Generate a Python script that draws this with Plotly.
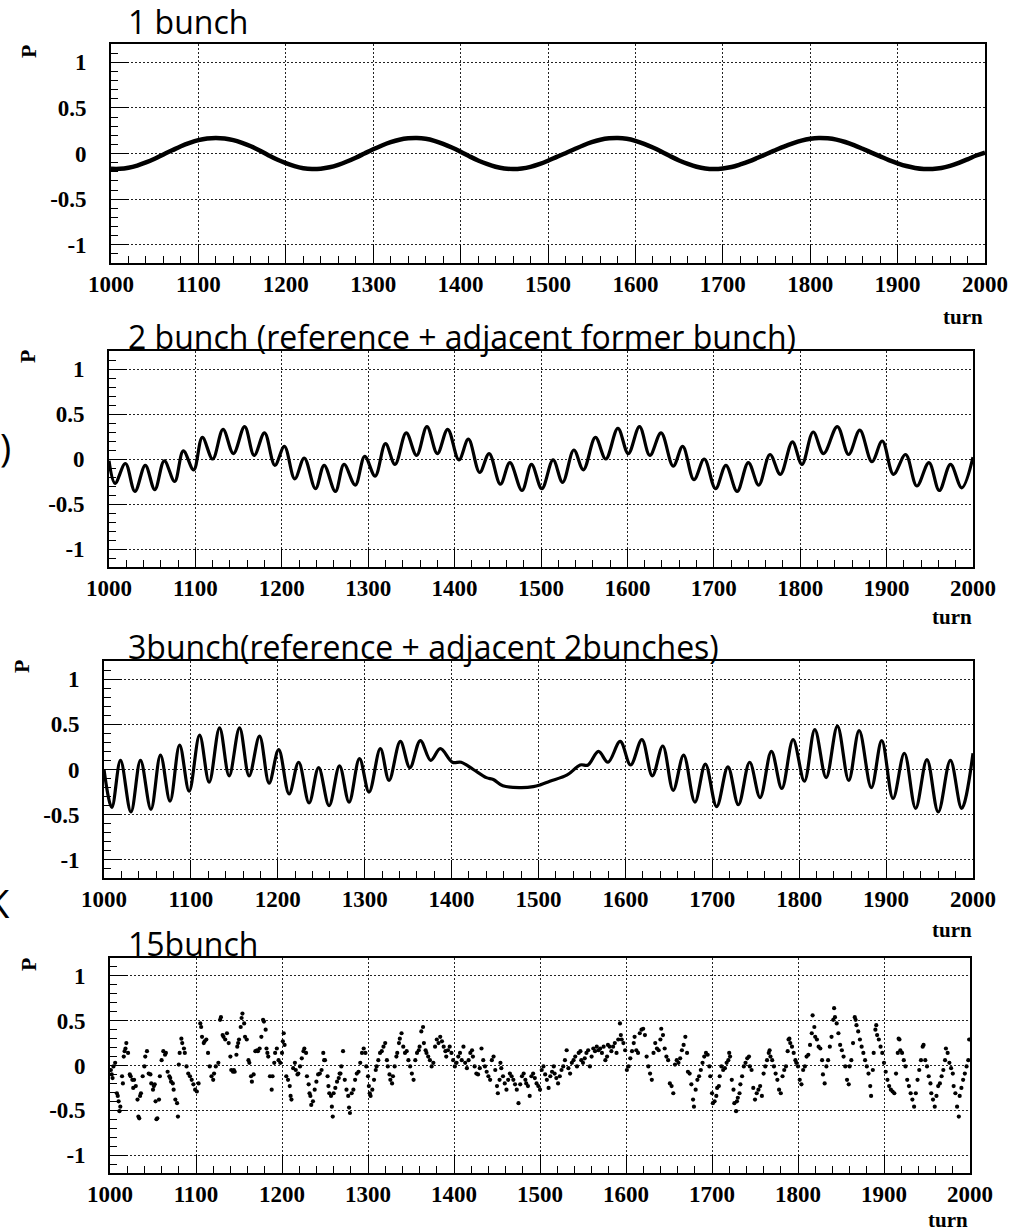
import plotly.graph_objects as go

# ---------------- data ----------------
turn_1bunch = [1000, 1010, 1020, 1030, 1040, 1050, 1060, 1070, 1080, 1090,
               1100, 1110, 1120, 1130, 1140, 1150, 1160, 1170, 1180, 1190,
               1200, 1210, 1220, 1230, 1240, 1250, 1260, 1270, 1280, 1290,
               1300, 1310, 1320, 1330, 1340, 1350, 1360, 1370, 1380, 1390,
               1400, 1410, 1420, 1430, 1440, 1450, 1460, 1470, 1480, 1490,
               1500, 1510, 1520, 1530, 1540, 1550, 1560, 1570, 1580, 1590,
               1600, 1610, 1620, 1630, 1640, 1650, 1660, 1670, 1680, 1690,
               1700, 1710, 1720, 1730, 1740, 1750, 1760, 1770, 1780, 1790,
               1800, 1810, 1820, 1830, 1840, 1850, 1860, 1870, 1880, 1890,
               1900, 1910, 1920, 1930, 1940, 1950, 1960, 1970, 1980, 1990, 2000]
p_1bunch = [-0.168, -0.168, -0.156, -0.132, -0.098, -0.057, -0.010, 0.035, 0.079, 0.116,
            0.146, 0.164, 0.170, 0.164, 0.146, 0.116, 0.079, 0.033, -0.018, -0.066,
            -0.106, -0.139, -0.161, -0.170, -0.166, -0.151, -0.124, -0.088, -0.046, 0.000,
            0.046, 0.088, 0.124, 0.151, 0.166, 0.170, 0.161, 0.139, 0.106, 0.066,
            0.020, -0.030, -0.076, -0.114, -0.145, -0.164, -0.170, -0.164, -0.146, -0.116,
            -0.079, -0.037, 0.003, 0.046, 0.088, 0.124, 0.151, 0.166, 0.170, 0.161,
            0.139, 0.106, 0.066, 0.020, -0.030, -0.076, -0.114, -0.145, -0.164, -0.170,
            -0.164, -0.148, -0.120, -0.087, -0.047, -0.005, 0.036, 0.076, 0.111, 0.141,
            0.161, 0.170, 0.166, 0.152, 0.126, 0.092, 0.052, 0.010, -0.031, -0.072,
            -0.107, -0.137, -0.158, -0.169, -0.169, -0.159, -0.136, -0.103, -0.064, -0.022, 0.010]

turn_2bunch = [1000, 1007, 1019, 1030, 1042, 1053, 1064, 1076, 1086, 1098,
               1108, 1120, 1132, 1144, 1157, 1168, 1180, 1192, 1203, 1215,
               1226, 1239, 1249, 1262, 1272, 1285, 1296, 1308, 1320, 1331,
               1344, 1356, 1368, 1380, 1392, 1405, 1416, 1429, 1440, 1453,
               1464, 1478, 1489, 1501, 1514, 1525, 1538, 1549, 1563, 1575,
               1589, 1601, 1614, 1626, 1639, 1653, 1664, 1677, 1689, 1702,
               1714, 1727, 1740, 1752, 1765, 1777, 1791, 1802, 1815, 1827,
               1843, 1856, 1869, 1883, 1895, 1908, 1922, 1935, 1949, 1961,
               1974, 1987, 2000]
p_2bunch = [-0.02, -0.27, -0.05, -0.36, -0.07, -0.34, -0.02, -0.25, 0.09, -0.12,
            0.24, 0.00, 0.33, 0.06, 0.36, 0.04, 0.29, -0.07, 0.14, -0.22,
            0.01, -0.33, -0.07, -0.36, -0.06, -0.29, 0.03, -0.19, 0.17, -0.06,
            0.29, 0.04, 0.36, 0.06, 0.33, -0.01, 0.22, -0.15, 0.06, -0.28,
            -0.04, -0.35, -0.06, -0.33, -0.01, -0.26, 0.10, -0.12, 0.24, 0.00,
            0.34, 0.06, 0.36, 0.04, 0.29, -0.08, 0.14, -0.23, 0.00, -0.33,
            -0.07, -0.36, -0.04, -0.29, 0.05, -0.17, 0.19, -0.06, 0.30, 0.06,
            0.36, 0.05, 0.32, -0.03, 0.20, -0.17, 0.05, -0.30, -0.04, -0.35,
            -0.06, -0.32, 0.02]

turn_3bunch = [1000, 1009, 1019, 1031, 1042, 1054, 1065, 1076, 1087, 1098,
               1110, 1121, 1133, 1144, 1156, 1167, 1179, 1190, 1201, 1213,
               1224, 1236, 1247, 1259, 1271, 1282, 1294, 1305, 1318, 1328,
               1341, 1352, 1364, 1376, 1387, 1401, 1411, 1425, 1440, 1448,
               1459, 1479, 1494, 1502, 1513, 1533, 1548, 1557, 1569, 1580,
               1594, 1606, 1619, 1631, 1643, 1655, 1667, 1680, 1692, 1705,
               1718, 1730, 1743, 1755, 1768, 1780, 1793, 1806, 1818, 1831,
               1844, 1857, 1869, 1883, 1895, 1908, 1921, 1934, 1947, 1960,
               1974, 1987, 2000]
p_3bunch = [0.00, -0.42, 0.10, -0.47, 0.10, -0.44, 0.16, -0.35, 0.27, -0.24,
            0.38, -0.14, 0.46, -0.07, 0.46, -0.07, 0.37, -0.15, 0.22, -0.27,
            0.08, -0.37, 0.02, -0.40, 0.04, -0.36, 0.12, -0.25, 0.23, -0.12,
            0.31, 0.02, 0.32, 0.10, 0.23, 0.08, 0.08, 0.00, -0.09, -0.11,
            -0.18, -0.20, -0.19, -0.17, -0.13, -0.06, 0.05, 0.05, 0.20, 0.08,
            0.31, 0.05, 0.33, -0.07, 0.26, -0.23, 0.16, -0.36, 0.06, -0.41,
            0.03, -0.39, 0.08, -0.31, 0.20, -0.21, 0.33, -0.13, 0.44, -0.09,
            0.48, -0.12, 0.43, -0.20, 0.32, -0.32, 0.18, -0.43, 0.11, -0.47,
            0.10, -0.43, 0.18]

turn_15bunch = [
    1001, 1002, 1003, 1004, 1006, 1008, 1009, 1010, 1011, 1012, 1014, 1015, 1016, 1017, 1018, 1019, 1021,
    1023, 1024, 1026, 1027, 1028, 1030, 1032, 1033, 1034, 1035, 1036, 1038, 1040, 1041, 1043,
    1045, 1047, 1048, 1050, 1051, 1052, 1053, 1054, 1055, 1057, 1058, 1060, 1062, 1064, 1065,
    1067, 1069, 1070, 1071, 1073, 1074, 1076, 1078, 1079, 1080, 1081, 1083, 1084, 1086, 1087,
    1089, 1091, 1093, 1095, 1097, 1099, 1101, 1103, 1105, 1106, 1107, 1109, 1110, 1112, 1114,
    1116, 1118, 1120, 1121, 1123, 1126, 1128, 1129, 1131, 1132, 1134, 1136, 1138, 1140, 1141,
    1143, 1144, 1145, 1147, 1148, 1149, 1150, 1152, 1153, 1154, 1156, 1157, 1159, 1161, 1162,
    1164, 1165, 1167, 1169, 1171, 1172, 1174, 1176, 1178, 1179, 1181, 1182, 1183, 1184, 1186,
    1188, 1189, 1191, 1192, 1194, 1196, 1198, 1200, 1201, 1202, 1203, 1205, 1207, 1209, 1210,
    1211, 1213, 1215, 1216, 1218, 1219, 1221, 1223, 1225, 1226, 1228, 1229, 1231, 1232, 1233,
    1234, 1236, 1238, 1240, 1242, 1244, 1246, 1248, 1249, 1250, 1253, 1254, 1255, 1257, 1258,
    1259, 1260, 1262, 1264, 1266, 1267, 1268, 1269, 1271, 1273, 1275, 1277, 1278, 1279, 1281,
    1283, 1285, 1287, 1289, 1291, 1293, 1295, 1297, 1298, 1300, 1301, 1302, 1303, 1305, 1307,
    1309, 1310, 1312, 1314, 1316, 1318, 1320, 1322, 1323, 1325, 1326, 1328, 1329, 1331, 1333,
    1334, 1336, 1337, 1339, 1341, 1343, 1345, 1347, 1349, 1351, 1353, 1355, 1357, 1359, 1360,
    1362, 1364, 1365, 1367, 1368, 1370, 1372, 1374, 1376, 1378, 1380, 1382, 1384, 1386, 1388,
    1390, 1391, 1393, 1395, 1397, 1399, 1401, 1403, 1405, 1407, 1409, 1411, 1413, 1415, 1417,
    1419, 1421, 1422, 1424, 1426, 1428, 1430, 1432, 1434, 1436, 1438, 1440, 1442, 1444, 1446,
    1448, 1450, 1451, 1453,
    1454, 1455, 1457, 1459, 1461, 1463, 1465, 1467, 1469, 1471, 1473, 1475, 1477, 1479, 1481,
    1483, 1484, 1486, 1488, 1490, 1492, 1494, 1496, 1498, 1500, 1502, 1504, 1506, 1508, 1510,
    1512, 1514, 1516, 1517, 1519, 1521, 1523, 1525, 1527, 1529, 1531, 1533, 1535, 1537, 1539,
    1541, 1543, 1545, 1547, 1548, 1550, 1552, 1554, 1556, 1558, 1560, 1562, 1564, 1566, 1568,
    1570, 1572, 1574, 1576, 1578, 1579, 1581, 1583, 1585, 1587, 1589, 1591, 1593, 1594, 1595,
    1597, 1599, 1601, 1603, 1605, 1607, 1609, 1610, 1612, 1614, 1616, 1618, 1620, 1622, 1624,
    1626, 1628, 1630, 1632, 1634, 1636, 1638, 1640, 1641, 1643, 1645, 1647, 1649, 1651, 1653,
    1655, 1657, 1659, 1661, 1663, 1665, 1667, 1669, 1671, 1672, 1674, 1676, 1678, 1679, 1681,
    1683, 1685, 1687, 1689, 1691, 1693, 1695, 1697, 1698, 1700, 1701, 1703, 1705, 1706, 1708,
    1709, 1711, 1713, 1715, 1717, 1719, 1720, 1721, 1723, 1725, 1726, 1728, 1729, 1730, 1732,
    1733, 1735, 1737, 1739, 1741, 1743, 1744, 1746, 1748, 1750, 1752, 1754, 1756, 1758, 1760,
    1762, 1764, 1766, 1767, 1768, 1770, 1772, 1774, 1776, 1778, 1780, 1782, 1784, 1786, 1788,
    1789, 1790, 1791, 1793, 1795, 1797, 1798, 1800, 1802, 1804, 1806, 1808, 1810, 1812, 1814,
    1816, 1817, 1819, 1820, 1822, 1824, 1826, 1828, 1829, 1831, 1833, 1835, 1837, 1839, 1841,
    1842, 1843, 1845, 1847, 1849, 1851, 1853, 1855, 1857, 1859, 1860, 1862, 1864, 1866, 1867,
    1868, 1870, 1872, 1874, 1876, 1878, 1880, 1882, 1884, 1885, 1887, 1888, 1890, 1891, 1892,
    1894, 1896, 1898, 1900, 1902, 1904, 1906, 1908, 1910, 1912, 1914, 1916, 1917, 1918, 1919,
    1921, 1923, 1925, 1927, 1929, 1931, 1933, 1935, 1937, 1939, 1941, 1943, 1945, 1946, 1948,
    1950, 1952, 1954, 1955, 1957, 1959, 1961, 1963, 1965, 1967, 1969, 1971, 1972, 1974, 1976,
    1978, 1980, 1981, 1983, 1985, 1987, 1988, 1990, 1992, 1994, 1996, 1998, 1999]
p_15bunch = [
    -0.05, -0.10, -0.14, -0.01, 0.03, -0.31, -0.34, -0.40, -0.51, -0.46, -0.12, -0.20, 0.10, 0.16, 0.19, 0.25, 0.14,
    -0.10, -0.12, -0.16, -0.25, -0.16, -0.23, -0.38, -0.57, -0.59, -0.34, -0.31, -0.12, -0.01, 0.10, 0.16,
    -0.09, -0.10, -0.20, -0.27, -0.23, -0.21, -0.40, -0.60, -0.59, -0.38, -0.12, 0.06, 0.16, 0.12, 0.14,
    -0.07, -0.12, -0.14, -0.18, -0.20, -0.27, -0.38, -0.42, -0.57, 0.01, 0.14, 0.30, 0.25, 0.19, 0.14,
    -0.01, -0.09, -0.12, -0.16, -0.21, -0.27, -0.29, -0.20, 0.47, 0.43, 0.32, 0.25, 0.27, 0.29, 0.14,
    -0.01, -0.12, -0.16, -0.09, -0.01, 0.03, 0.51, 0.54, 0.34, 0.32, 0.29, 0.36, 0.25, 0.10, -0.05,
    -0.07, -0.05, -0.07, 0.12, 0.21, 0.25, 0.29, 0.43, 0.53, 0.58, 0.47, 0.32, 0.29, 0.06, 0.03,
    -0.12, -0.18, -0.10, 0.16, 0.17, 0.16, 0.19, 0.32, 0.51, 0.49, 0.40, 0.19, 0.14, 0.10, -0.12,
    -0.27, -0.12, 0.03, 0.14, 0.19, 0.06, 0.03, 0.14, 0.27, 0.36, 0.23, -0.12, -0.16, -0.23, -0.34,
    -0.38, -0.03, 0.03, -0.05, -0.10, -0.09, -0.01, 0.08, 0.16, 0.19, 0.14, -0.12, -0.21, -0.31, -0.34,
    -0.44, -0.40, -0.27, -0.18, -0.10, -0.09, -0.05, 0.14, 0.06, 0.06, -0.12, -0.23, -0.31, -0.34, -0.46,
    -0.57, -0.31, -0.25, -0.18, -0.14, -0.09, -0.09, -0.01, 0.16, -0.16, -0.27, -0.34, -0.47, -0.53, -0.31,
    -0.27, -0.16, -0.09, -0.07, 0.03, 0.14, 0.19, 0.14, -0.01, -0.12, -0.23, -0.31, -0.34, -0.27, -0.16,
    -0.05, -0.01, 0.06, 0.14, 0.16, 0.21, 0.25, 0.06, -0.01, -0.10, -0.16, -0.20, -0.12, -0.01, 0.10,
    0.14, 0.25, 0.30, 0.36, 0.21, 0.14, 0.16, 0.06, -0.01, -0.09, -0.16, 0.06, 0.14, 0.17, 0.21,
    0.38, 0.43, 0.25, 0.17, 0.14, 0.10, 0.06, -0.01, 0.03, 0.21, 0.29, 0.25, 0.32, 0.27, 0.21,
    0.16, 0.10, 0.17, 0.21, 0.14, 0.06, -0.01, 0.03, 0.10, 0.14, 0.06, 0.21, 0.03, -0.03, 0.06,
    0.14, 0.17, 0.10, -0.01, -0.09, -0.10, -0.03, 0.19, 0.06, -0.01, -0.07, -0.12, -0.16, 0.06, 0.10,
    -0.05, -0.23, -0.31, -0.16,
    0.03, -0.03, -0.12, -0.20, -0.27, -0.16, -0.09, -0.12, -0.16, -0.21, -0.27, -0.42, -0.21, -0.12, -0.09,
    -0.16, -0.20, -0.23, -0.34, -0.12, -0.09, -0.14, -0.20, -0.23, -0.27, -0.05, -0.01, -0.10, -0.16, -0.25,
    -0.12, -0.07, -0.01, -0.09, -0.14, -0.20, -0.12, -0.05, -0.01, 0.06, 0.17, -0.03, -0.09, 0.03, 0.06,
    0.10, -0.01, 0.14, 0.16, 0.06, 0.03, 0.08, 0.14, 0.17, -0.01, 0.10, 0.19, 0.16, 0.21, 0.17,
    0.19, 0.14, 0.21, 0.06, 0.10, 0.23, 0.21, 0.16, 0.21, 0.25, 0.14, 0.29, 0.47, 0.34, 0.29,
    0.25, 0.17, -0.05, -0.01, 0.08, 0.16, 0.25, 0.32, 0.17, 0.14, 0.36, 0.40, 0.41, 0.34, 0.10,
    -0.01, -0.09, -0.16, 0.14, 0.25, 0.19, 0.17, 0.29, 0.41, 0.34, 0.19, 0.10, 0.06, -0.20, -0.23,
    -0.31, 0.01, 0.06, 0.03, 0.08, 0.17, 0.23, 0.32, 0.14, -0.07, -0.09, -0.21, -0.38, -0.46, -0.27,
    -0.16, -0.12, -0.05, 0.03, 0.10, 0.14, 0.12, -0.01, -0.12, -0.31, -0.42, -0.40, -0.34, -0.25, -0.23,
    -0.12, -0.01, -0.05, -0.03, 0.03, 0.06, 0.14, 0.10, -0.16, -0.27, -0.42, -0.51, -0.40, -0.36, -0.31,
    -0.21, -0.12, -0.01, 0.03, 0.08, 0.10, -0.01, -0.05, -0.25, -0.38, -0.31, -0.27, -0.23, -0.34, -0.09,
    -0.01, 0.06, 0.14, 0.17, 0.10, 0.06, -0.01, -0.09, -0.16, -0.27, -0.31, -0.12, -0.05, -0.01, 0.16,
    0.29, 0.30, 0.25, 0.21, 0.14, 0.06, 0.03, -0.01, -0.16, -0.21, -0.05, -0.01, 0.10, 0.12, 0.23,
    0.36, 0.56, 0.43, 0.32, 0.29, 0.21, 0.19, 0.06, -0.10, -0.20, -0.01, 0.06, 0.21, 0.32, 0.51,
    0.64, 0.54, 0.47, 0.36, 0.23, 0.17, 0.10, -0.01, -0.16, -0.21, -0.01, 0.06, 0.25, 0.54, 0.51,
    0.45, 0.38, 0.29, 0.21, 0.14, 0.06, -0.01, -0.09, -0.23, -0.34, -0.05, 0.14, 0.40, 0.45, 0.34,
    0.29, 0.21, 0.14, 0.03, -0.07, -0.16, -0.23, -0.27, -0.29, -0.31, -0.09, 0.14, 0.30, 0.29, 0.17,
    0.14, 0.06, -0.01, -0.16, -0.23, -0.31, -0.38, -0.46, -0.31, -0.16, -0.05, 0.06, 0.21, 0.23, 0.06,
    -0.01, -0.12, -0.20, -0.31, -0.38, -0.46, -0.34, -0.23, -0.20, -0.12, -0.05, 0.06, 0.19, 0.14, 0.03,
    -0.03, -0.09, -0.23, -0.31, -0.46, -0.57, -0.34, -0.25, -0.16, -0.09, -0.01, 0.06, 0.29]

x_tickvals = [1000, 1100, 1200, 1300, 1400, 1500, 1600, 1700, 1800, 1900, 2000]
x_ticktext = ["1000", "1100", "1200", "1300", "1400", "1500", "1600", "1700", "1800", "1900", "2000"]
y_tickvals = [-1, -0.5, 0, 0.5, 1]
y_ticktext = ["-1", "-0.5", "0", "0.5", "1"]

titles = ["1 bunch",
          "2 bunch (reference + adjacent former bunch)",
          "3bunch(reference + adjacent 2bunches)",
          "15bunch"]

# ---------------- layout ----------------
W, H = 1025, 1232
boxes = [(111, 985, 44, 263), (109, 973, 351, 567), (104, 973, 661, 878), (110, 970, 958, 1173)]
title_baseline = [34, 349, 659, 956]
turn_label_pos = [(963, 317), (952, 617), (952, 930), (948, 1220)]
p_label_pos = [(28, 52), (27, 357), (21, 667), (28, 965)]

fig = go.Figure()

fig.add_trace(go.Scatter(x=turn_1bunch, y=p_1bunch, mode="lines",
                         line=dict(color="black", width=4.5, shape="spline", smoothing=1.0),
                         xaxis="x", yaxis="y", showlegend=False))
fig.add_trace(go.Scatter(x=turn_2bunch, y=p_2bunch, mode="lines",
                         line=dict(color="black", width=3.2, shape="spline", smoothing=1.0),
                         xaxis="x2", yaxis="y2", showlegend=False))
fig.add_trace(go.Scatter(x=turn_3bunch, y=p_3bunch, mode="lines",
                         line=dict(color="black", width=3.2, shape="spline", smoothing=1.0),
                         xaxis="x3", yaxis="y3", showlegend=False))
fig.add_trace(go.Scatter(x=turn_15bunch, y=p_15bunch, mode="markers",
                         marker=dict(color="black", size=4.2),
                         xaxis="x4", yaxis="y4", showlegend=False))

tickfont = dict(family="Liberation Serif", size=23, color="black", weight="bold")
grid_dash = "2px,2px"

layout = dict(width=W, height=H,
              margin=dict(l=0, r=0, t=0, b=0, autoexpand=False),
              paper_bgcolor="white", plot_bgcolor="white", showlegend=False)

annotations = []
for i, (x0, x1, y0, y1) in enumerate(boxes):
    n = "" if i == 0 else str(i + 1)
    layout["xaxis" + n] = dict(
        domain=[x0 / W, x1 / W], anchor="y" + n, range=[1000, 2000],
        tickmode="array", tickvals=x_tickvals, ticktext=x_ticktext,
        ticks="inside", ticklen=18, tickwidth=1.2, tickcolor="black",
        minor=dict(tickmode="linear", tick0=1000, dtick=20, ticks="inside",
                   ticklen=7, tickwidth=1, tickcolor="black", showgrid=False),
        showgrid=True, gridcolor="#222", gridwidth=1, griddash=grid_dash,
        showline=True, linecolor="black", linewidth=1.6, mirror=True,
        zeroline=False, tickfont=tickfont, ticklabelstandoff=0, automargin=False)
    layout["yaxis" + n] = dict(
        domain=[1 - y1 / H, 1 - y0 / H], anchor="x" + n, range=[-1.2, 1.2],
        tickmode="array", tickvals=y_tickvals, ticktext=y_ticktext,
        ticks="inside", ticklen=18, tickwidth=1.2, tickcolor="black",
        minor=dict(tickmode="linear", tick0=0, dtick=0.1, ticks="inside",
                   ticklen=7, tickwidth=1, tickcolor="black", showgrid=False),
        showgrid=True, gridcolor="#222", gridwidth=1, griddash=grid_dash,
        showline=True, linecolor="black", linewidth=1.6, mirror=True,
        zeroline=False, tickfont=tickfont, ticklabelstandoff=18, automargin=False)

    fs = 32
    annotations.append(dict(text=titles[i], xref="paper", yref="paper",
                            x=126 / W, y=1 - (title_baseline[i] - 0.388 * fs) / H,
                            xanchor="left", yanchor="middle", showarrow=False,
                            font=dict(family="Open Sans", size=fs, color="black")))
    tx, ty = turn_label_pos[i]
    annotations.append(dict(text="turn", xref="paper", yref="paper",
                            x=tx / W, y=1 - ty / H, xanchor="center", yanchor="middle",
                            showarrow=False,
                            font=dict(family="Liberation Serif", size=21, color="black", weight="bold")))
    px_, py_ = p_label_pos[i]
    annotations.append(dict(text="P", xref="paper", yref="paper",
                            x=px_ / W, y=1 - py_ / H, xanchor="center", yanchor="middle",
                            textangle=-90, showarrow=False,
                            font=dict(family="Liberation Serif", size=22, color="black", weight="bold")))

# stray fragments at the left edge of the slide (cut off by the slide edge in the original)
annotations.append(dict(text=")", xref="paper", yref="paper", x=5 / W, y=1 - 447 / H,
                        xanchor="center", yanchor="middle", showarrow=False,
                        font=dict(family="Open Sans", size=38, color="black")))
annotations.append(dict(text="K", xref="paper", yref="paper", x=12 / W, y=1 - 903 / H,
                        xanchor="right", yanchor="middle", showarrow=False,
                        font=dict(family="Open Sans", size=38, color="black")))

layout["annotations"] = annotations
fig.update_layout(**layout)
fig.write_html("out.html")
